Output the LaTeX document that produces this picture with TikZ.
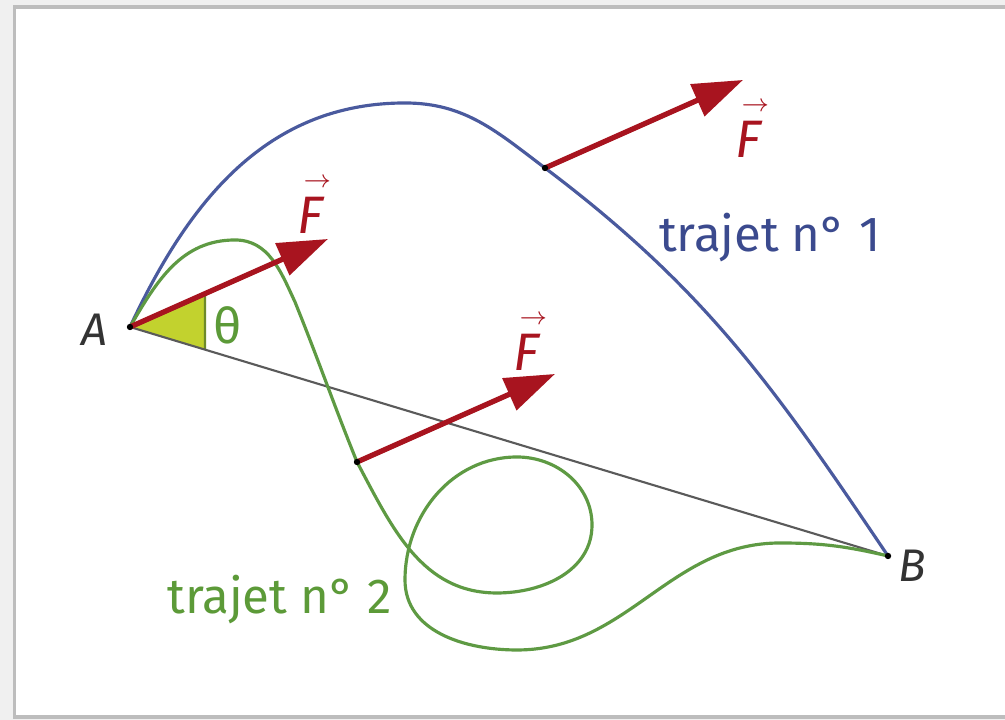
\documentclass[tikz,border=0pt]{standalone}
\usepackage{fontspec}
\setmainfont{Fira Sans}
\usepackage{amsmath}
\usepackage{tikz}
\usepackage{xcolor}
\usetikzlibrary{positioning,arrows.meta,calc}
\definecolor{pathblue}{HTML}{4A5A9E}
\definecolor{textblue}{HTML}{3B4A8E}
\definecolor{pathgreen}{HTML}{5E9A43}
\definecolor{textgreen}{HTML}{5C9A38}
\definecolor{forcered}{HTML}{A8141F}
\definecolor{wedgefill}{HTML}{C2D22E}
\definecolor{wedgeedge}{HTML}{6E8A2A}
\definecolor{chordgrey}{HTML}{5A5A5A}
\definecolor{framegrey}{HTML}{BDBDBD}
\definecolor{outerbg}{HTML}{F0F0F0}
\newcommand{\forceF}{\ensuremath{\overset{\mkern7mu\scriptscriptstyle\rightarrow}{\mathit{F}}}}
\tikzset{
  trajet/.style={line width=0.9pt, line cap=round},
  trajetun/.style  ={trajet, draw=pathblue},
  trajetdeux/.style={trajet, draw=pathgreen},
  chord/.style={draw=chordgrey, line width=0.6pt},
  force/.style={-{Triangle[length=5mm,width=3.4mm]}, draw=forcered, fill=forcered, line width=1.5pt},
  flbl/.style={text=forcered, font=\fontsize{15}{16}\selectfont, inner sep=0pt},
  plbl/.style={text=black!80, font=\fontsize{13}{14}\selectfont\itshape, inner sep=0pt},
  tlbl/.style={font=\fontsize{14}{16}\selectfont, inner sep=0pt},
  dot/.style={fill=black},
}

\begin{document}
\begin{tikzpicture}
\useasboundingbox (0,0) rectangle (10.05,7.2);

% frame
\fill[outerbg] (0,0) rectangle (10.05,7.2);
\draw[framegrey, line width=1pt, fill=white] (0.145,0.03) rectangle (10.4,7.13);

% points
\coordinate (A)  at (1.30,3.93);
\coordinate (B)  at (8.88,1.64);
\coordinate (P1) at (5.45,5.52);
\coordinate (P2) at (3.57,2.58);
\coordinate (T0) at (3.28,4.81);
\coordinate (T1) at (7.43,6.40);
\coordinate (T2) at (5.55,3.46);
\coordinate (W1) at ($(A)!0.3788!(T0)$);
\coordinate (W2) at ($(A)!0.0989!(B)$);

% angle theta
\fill[wedgefill] (A) -- (W1) -- (W2) -- cycle;
\draw[wedgeedge, line width=0.6pt] (W1) -- (W2);
\node[text=textgreen, font=\fontsize{14}{16}\selectfont, inner sep=0pt] (theta) at (2.28,3.95) {θ};

% segment AB
\draw[chord] (A) -- (B);

% trajet 1
\draw[trajetun] (A) to[out=65,in=180] (4.05,6.17) to[out=0,in=143] (P1)
  to[out=-37,in=124] (B);

% trajet 2
\draw[trajetdeux] (A) to[out=60,in=180] (2.35,4.80) to[out=0,in=115] (2.95,4.18)
  to[out=-68,in=112] (P2) to[out=-62,in=180] (4.97,1.27)
  to[out=0,in=-90] (5.92,1.95) to[out=90,in=0] (5.17,2.63)
  to[out=180,in=90] (4.05,1.40) to[out=-90,in=180] (5.17,0.70)
  to[out=0,in=180] (7.80,1.77) to[out=0,in=167] (B);

% forces
\draw[force] (A) -- (T0);
\draw[force] (P1) -- (T1);
\draw[force] (P2) -- (T2);
\node[flbl] (F0) at (3.10,5.17) {\forceF};
\node[flbl] (F1) at (7.48,5.93) {\forceF};
\node[flbl] (F2) at (5.26,3.80) {\forceF};

% dots
\foreach \p in {A,B,P1,P2} \fill[dot] (\p) circle (0.032);

% labels
\node[plbl, left=2.2mm of A, yshift=-0.3mm] (labA) {A};
\node[plbl, right=1mm of B, yshift=-1mm] (labB) {B};
\node[tlbl, text=textblue] (lab1) at (7.70,4.82) {trajet n° 1};
\node[tlbl, text=textgreen] (lab2) at (2.80,1.20) {trajet n° 2};

\end{tikzpicture}
\end{document}
